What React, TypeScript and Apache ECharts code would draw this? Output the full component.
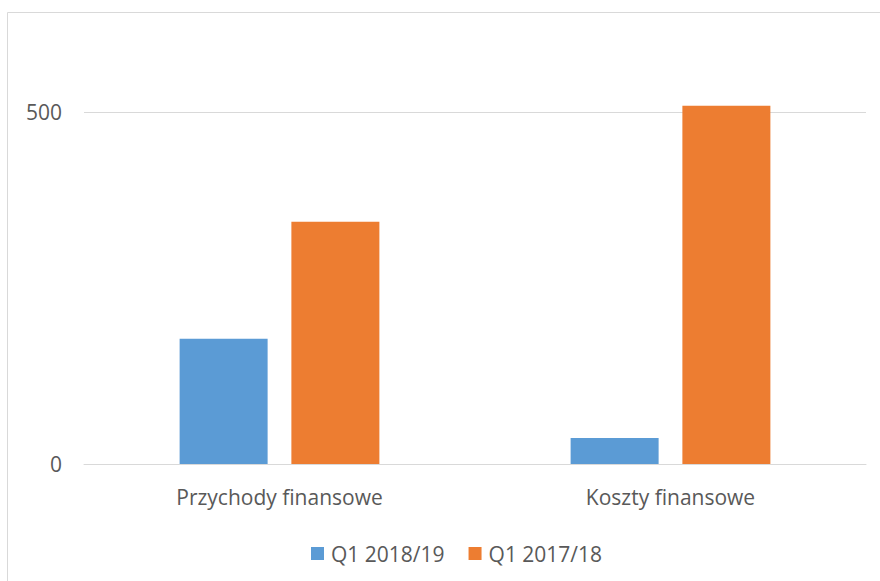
import React, { useEffect, useRef } from "react";
import * as echarts from "echarts";

const categories = ["Przychody finansowe", "Koszty finansowe"];
const seriesNames = ["Q1 2018/19", "Q1 2017/18"];
const q1_2018_19 = [178, 37];
const q1_2017_18 = [344, 509];
const colors = ["#5b9bd5", "#ed7d31"];

export default function App() {
  const ref = useRef<HTMLDivElement>(null);
  useEffect(() => {
    document.body.style.margin = "0";
    const chart = echarts.init(ref.current!, null, { renderer: "svg" });
    const font = "'Open Sans', sans-serif";
    chart.setOption({
      animation: false,
      backgroundColor: "#ffffff",
      textStyle: { fontFamily: font },
      graphic: [
        {
          type: "rect",
          shape: { x: 7.5, y: 12.5, width: 900, height: 600 },
          style: { fill: "none", stroke: "#d9d9d9", lineWidth: 1 },
          silent: true,
          z: -1,
        },
      ],
      grid: { left: 84, right: 14, top: 112, bottom: 117, containLabel: false },
      legend: {
        left: 306,
        top: 538,
        itemWidth: 13,
        itemHeight: 13,
        itemGap: 24,
        icon: "rect",
        textStyle: { fontSize: 21, color: "#595959", fontFamily: font, padding: [0, 0, 0, 2] },
        data: seriesNames,
      },
      xAxis: {
        type: "category",
        data: categories,
        axisLine: { lineStyle: { color: "#d9d9d9" } },
        axisTick: { show: false },
        axisLabel: { fontSize: 21, color: "#595959", margin: 22, fontFamily: font },
      },
      yAxis: {
        type: "value",
        min: 0,
        max: 500,
        interval: 500,
        axisLine: { show: false },
        axisTick: { show: false },
        splitLine: { lineStyle: { color: "#d9d9d9" } },
        axisLabel: { fontSize: 21, color: "#595959", margin: 22, fontFamily: font },
      },
      series: [
        {
          name: seriesNames[0],
          type: "bar",
          data: q1_2018_19,
          barWidth: 88,
          barGap: "27%",
          clip: false,
          itemStyle: { color: colors[0] },
        },
        {
          name: seriesNames[1],
          type: "bar",
          data: q1_2017_18,
          barWidth: 88,
          barGap: "27%",
          clip: false,
          itemStyle: { color: colors[1] },
        },
      ],
    });
    return () => chart.dispose();
  }, []);
  return <div ref={ref} style={{ width: 880, height: 581 }} />;
}
